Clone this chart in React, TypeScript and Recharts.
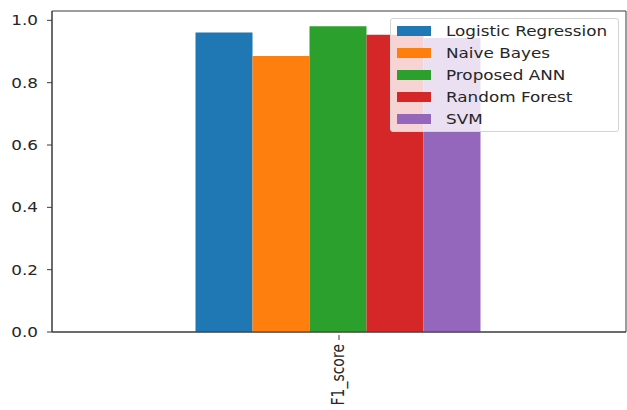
import React from 'react';
import { BarChart, Bar, XAxis, YAxis, ReferenceArea } from 'recharts';

const categories = ['F1_score'];
const models = ['Logistic Regression', 'Naive Bayes', 'Proposed ANN', 'Random Forest', 'SVM'];
const f1Scores = [0.961, 0.886, 0.981, 0.954, 0.943];
const yTicks = [0, 0.2, 0.4, 0.6, 0.8, 1.0];
const Y_MAX = 1.03;

const COLORS = ['#1f77b4', '#ff7f0e', '#2ca02c', '#d62728', '#9467bd'];
const AXIS = '#3a3a3a';
const TEXT = '#262626';
const FONT = '"DejaVu Sans", sans-serif';
// the reference image is a bit stretched sideways
const STRETCH = 1.2;

const data = categories.map((name) => {
  const row: any = { name };
  models.forEach((m, i) => {
    row[m] = f1Scores[i];
  });
  return row;
});

const XTick = ({ x, y, payload }: any) => (
  <g>
    <line x1={x} y1={y - 5} x2={x} y2={y} stroke={AXIS} strokeWidth={1} />
    <text
      transform={`translate(${x + 5},${y + 4}) scale(${STRETCH},1) rotate(-90)`}
      textAnchor="end"
      fontSize={14}
      fill={TEXT}
      fontFamily={FONT}
    >
      {payload.value}
    </text>
  </g>
);

const YTick = ({ x, y, payload }: any) => (
  <text
    transform={`translate(${x - 7},${y}) scale(${STRETCH},1)`}
    textAnchor="end"
    dy="0.36em"
    fontSize={14}
    fill={TEXT}
    fontFamily={FONT}
  >
    {payload.value.toFixed(1)}
  </text>
);

const ChartLegend = () => (
  <div
    style={{
      position: 'absolute',
      left: 390,
      top: 18,
      width: 229,
      height: 114,
      background: 'rgba(255,255,255,0.8)',
      border: '1px solid #d4d4d4',
      borderRadius: 3,
      boxSizing: 'border-box',
      fontFamily: FONT,
      fontSize: 14,
      color: TEXT,
    }}
  >
    {models.map((m, i) => (
      <div
        key={m}
        style={{ position: 'absolute', left: 6, top: 3 + i * 22, height: 18, display: 'flex', alignItems: 'center' }}
      >
        <span style={{ display: 'inline-block', width: 34, height: 10, background: COLORS[i], marginRight: 15 }} />
        <span style={{ whiteSpace: 'nowrap', display: 'inline-block', transform: `scaleX(${STRETCH})`, transformOrigin: 'left center' }}>{m}</span>
      </div>
    ))}
  </div>
);

const App: React.FC = () => {
  return (
    <div style={{ position: 'absolute', left: 0, top: 0, width: 627, height: 410, background: '#fff' }}>
      <BarChart
        width={627}
        height={410}
        data={data}
        margin={{ top: 11, right: 1, left: 0, bottom: 0 }}
        barCategoryGap="25%"
        barGap={0}
      >
        <XAxis
          dataKey="name"
          height={78}
          axisLine={{ stroke: AXIS, strokeWidth: 1 }}
          tickLine={false}
          tick={<XTick />}
          interval={0}
        />
        <YAxis
          width={52}
          domain={[0, Y_MAX]}
          ticks={yTicks}
          axisLine={{ stroke: AXIS, strokeWidth: 1 }}
          tickLine={{ stroke: AXIS, strokeWidth: 1 }}
          tickSize={5}
          tick={<YTick />}
        />
        {models.map((m, i) => (
          <Bar key={m} dataKey={m} fill={COLORS[i]} isAnimationActive={false} />
        ))}
        <ReferenceArea y1={0} y2={Y_MAX} fill="none" fillOpacity={0} stroke={AXIS} strokeWidth={1} ifOverflow="visible" />
      </BarChart>
      <ChartLegend />
    </div>
  );
};

export default App;
